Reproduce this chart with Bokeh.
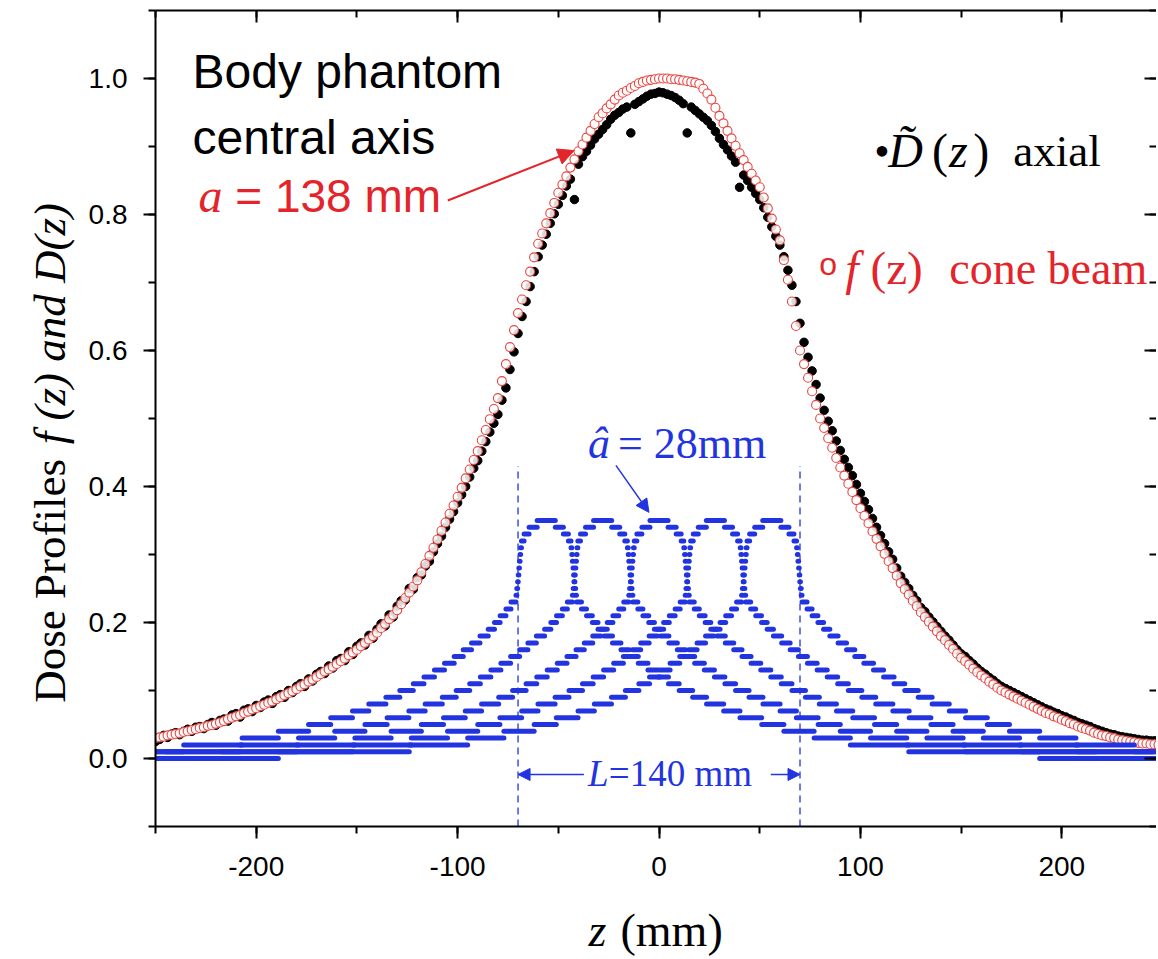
import math
from bokeh.plotting import figure
from bokeh.layouts import row, column
from bokeh.models import (Label, Arrow, NormalHead, LinearAxis, SingleIntervalTicker,
                          PrintfTickFormatter, CustomJSTickFormatter, Range1d, ColumnDataSource)
from bokeh.embed import file_html
from bokeh.resources import INLINE

# ---------------- data ----------------
z_mm = list(range(-250, 251, 2))

# f(z) cone beam (open red circles)
f_cone_left = [
    0.030, 0.031, 0.032, 0.034, 0.035, 0.036, 0.037, 0.039, 0.040, 0.042,
    0.043, 0.045, 0.046, 0.048, 0.049, 0.051, 0.053, 0.055, 0.058, 0.060,
    0.062, 0.064, 0.067, 0.069, 0.072, 0.074, 0.077, 0.079, 0.082, 0.084,
    0.087, 0.090, 0.093, 0.096, 0.099, 0.102, 0.106, 0.109, 0.113, 0.116,
    0.120, 0.124, 0.128, 0.131, 0.135, 0.139, 0.143, 0.147, 0.152, 0.156,
    0.160, 0.165, 0.170, 0.175, 0.180, 0.185, 0.192, 0.198, 0.205, 0.211,
    0.218, 0.227, 0.236, 0.244, 0.253, 0.262, 0.274, 0.286, 0.298, 0.310,
    0.322, 0.335, 0.347, 0.360, 0.372, 0.385, 0.398, 0.412, 0.425, 0.439,
    0.452, 0.468, 0.483, 0.499, 0.514, 0.530, 0.555, 0.580, 0.605, 0.630,
    0.655, 0.675, 0.696, 0.716, 0.737, 0.757, 0.772, 0.787, 0.802, 0.817,
    0.832, 0.844, 0.856, 0.869, 0.881, 0.893, 0.903, 0.913, 0.923, 0.933,
    0.943, 0.949, 0.956, 0.962, 0.969, 0.975, 0.979, 0.982, 0.986, 0.989,
    0.993, 0.995, 0.997, 0.998, 0.999, 1.000,
]
f_cone_right = [
    1.000, 1.000, 0.999, 0.999, 0.998, 0.997, 0.996, 0.995, 0.994, 0.992,
    0.985, 0.978, 0.969, 0.957, 0.945, 0.934, 0.923, 0.912, 0.901, 0.890,
    0.880, 0.870, 0.860, 0.850, 0.840, 0.825, 0.809, 0.794, 0.778, 0.762,
    0.733, 0.704, 0.672, 0.636, 0.600, 0.580, 0.560, 0.540, 0.520, 0.500,
    0.486, 0.471, 0.457, 0.442, 0.428, 0.416, 0.404, 0.392, 0.380, 0.368,
    0.357, 0.346, 0.334, 0.323, 0.312, 0.301, 0.290, 0.280, 0.269, 0.258,
    0.249, 0.241, 0.232, 0.224, 0.215, 0.208, 0.201, 0.194, 0.187, 0.180,
    0.174, 0.167, 0.161, 0.154, 0.148, 0.143, 0.138, 0.132, 0.127, 0.122,
    0.118, 0.113, 0.109, 0.104, 0.100, 0.097, 0.094, 0.091, 0.088, 0.085,
    0.082, 0.079, 0.076, 0.073, 0.070, 0.067, 0.065, 0.062, 0.060, 0.057,
    0.055, 0.052, 0.050, 0.047, 0.045, 0.043, 0.041, 0.038, 0.036, 0.034,
    0.033, 0.031, 0.030, 0.028, 0.027, 0.026, 0.025, 0.024, 0.023, 0.022,
    0.022, 0.021, 0.021, 0.020, 0.020,
]
f_cone = f_cone_left + f_cone_right

# D~(z) axial (filled black dots)
d_axial_left = [
    0.025, 0.028, 0.034, 0.031, 0.036, 0.038, 0.035, 0.040, 0.043, 0.040,
    0.046, 0.047, 0.044, 0.050, 0.053, 0.049, 0.056, 0.058, 0.055, 0.064,
    0.066, 0.061, 0.071, 0.073, 0.069, 0.078, 0.075, 0.083, 0.086, 0.081,
    0.091, 0.094, 0.090, 0.100, 0.097, 0.106, 0.110, 0.106, 0.117, 0.114,
    0.124, 0.128, 0.125, 0.136, 0.133, 0.144, 0.147, 0.144, 0.157, 0.153,
    0.165, 0.170, 0.167, 0.181, 0.177, 0.190, 0.198, 0.195, 0.211, 0.208,
    0.224, 0.232, 0.233, 0.250, 0.249, 0.266, 0.270, 0.283, 0.290, 0.304,
    0.316, 0.327, 0.340, 0.352, 0.363, 0.376, 0.388, 0.400, 0.414, 0.427,
    0.438, 0.452, 0.466, 0.480, 0.493, 0.506, 0.527, 0.545, 0.572, 0.598,
    0.625, 0.650, 0.672, 0.694, 0.716, 0.738, 0.755, 0.771, 0.787, 0.801,
    0.815, 0.828, 0.842, 0.852, 0.822, 0.874, 0.885, 0.893, 0.902, 0.911,
    0.918, 0.925, 0.932, 0.940, 0.946, 0.950, 0.955, 0.958, 0.920, 0.962,
    0.966, 0.970, 0.974, 0.977, 0.978, 0.980,
]
d_axial_right = [
    0.979, 0.977, 0.975, 0.972, 0.968, 0.963, 0.920, 0.958, 0.953, 0.948,
    0.943, 0.938, 0.931, 0.922, 0.912, 0.903, 0.895, 0.886, 0.877, 0.840,
    0.858, 0.850, 0.840, 0.831, 0.822, 0.810, 0.796, 0.782, 0.768, 0.755,
    0.738, 0.718, 0.696, 0.672, 0.640, 0.612, 0.590, 0.570, 0.550, 0.530,
    0.512, 0.496, 0.482, 0.467, 0.453, 0.440, 0.428, 0.416, 0.403, 0.390,
    0.378, 0.366, 0.353, 0.340, 0.328, 0.316, 0.304, 0.293, 0.280, 0.268,
    0.259, 0.250, 0.240, 0.232, 0.222, 0.216, 0.208, 0.201, 0.194, 0.187,
    0.180, 0.174, 0.167, 0.160, 0.154, 0.150, 0.144, 0.139, 0.133, 0.128,
    0.124, 0.119, 0.115, 0.110, 0.106, 0.103, 0.100, 0.097, 0.094, 0.091,
    0.088, 0.085, 0.082, 0.079, 0.076, 0.073, 0.071, 0.068, 0.066, 0.063,
    0.061, 0.058, 0.056, 0.053, 0.051, 0.049, 0.047, 0.044, 0.042, 0.040,
    0.038, 0.036, 0.035, 0.033, 0.032, 0.031, 0.030, 0.029, 0.028, 0.027,
    0.027, 0.026, 0.026, 0.025, 0.025,
]
d_axial = d_axial_left + d_axial_right

# Single-rotation profile (a^ = 28 mm), stair levels vs distance |z - centre|
profile_centres = [-56, -28, 0, 28, 56]
stair_d_from = [0, 4.5, 8.5, 11, 12.3, 12.7, 13.0, 13.3, 13.6, 13.9, 14.2, 14.6,
                15, 17.5, 20, 22.9, 25.7, 28.8, 32.9, 37.1, 41.2, 45.7, 50.5, 55.5,
                60.7, 66, 72.7, 79.6, 88.1, 96.2, 107, 118, 133, 151, 180, 245]
stair_d_to = stair_d_from[1:] + [310]
stair_level = [0.35, 0.34, 0.33, 0.32, 0.31, 0.30, 0.29, 0.28, 0.27, 0.26, 0.25, 0.24,
               0.23, 0.22, 0.21, 0.20, 0.19, 0.18, 0.17, 0.16, 0.15, 0.14, 0.13, 0.12,
               0.11, 0.10, 0.09, 0.08, 0.07, 0.06, 0.05, 0.04, 0.03, 0.02, 0.01, 0.00]
scan_length_L = 140
dashed_top = 0.43

x_ticks_interval = 100
y_ticks_interval = 0.2

# ---------------- layout sizes ----------------
LEFT_W = 75           # side panel holding the y title
MAIN_W = 1081
MAIN_H = 896
BOTTOM_H = 62         # panel holding the x title
PX_PER_UNIT_Y = 680.0 # frame height / y span
BASE_SHIFT = 0.32     # Label baseline correction, in em

RED = "#e3242b"
RED_C = "#e8453f"
BLUE = "#2233e0"

p = figure(width=MAIN_W, height=MAIN_H, x_range=Range1d(-250, 247), y_range=Range1d(-0.1, 1.1),
           output_backend="svg", toolbar_location=None,
           min_border_left=80, min_border_right=0, min_border_top=10, min_border_bottom=70)
p.grid.visible = False
p.outline_line_color = None
p.background_fill_color = "white"
p.border_fill_color = "white"

def style_axis(ax, inward=False):
    ax.axis_line_width = 2
    ax.axis_line_color = "black"
    ax.major_tick_line_width = 2
    ax.minor_tick_line_width = 2
    ax.major_tick_line_color = "black"
    ax.minor_tick_line_color = "black"
    if inward:
        ax.major_tick_in, ax.major_tick_out = 12, 0
        ax.minor_tick_in, ax.minor_tick_out = 7, 0
        ax.formatter = CustomJSTickFormatter(code="return ''")
        ax.major_label_text_font_size = "1px"
        ax.major_label_standoff = 0
    else:
        ax.major_tick_in, ax.major_tick_out = 0, 12
        ax.minor_tick_in, ax.minor_tick_out = 0, 7
        ax.major_label_text_font = "Liberation Sans"
        ax.major_label_text_font_size = "28px"
        ax.major_label_text_color = "black"

xb = p.xaxis[0]
xb.ticker = SingleIntervalTicker(interval=x_ticks_interval, num_minor_ticks=2)
xb.formatter = PrintfTickFormatter(format="%d")
style_axis(xb)
xb.major_label_standoff = 18

yl = p.yaxis[0]
yl.ticker = SingleIntervalTicker(interval=y_ticks_interval, num_minor_ticks=2)
yl.formatter = PrintfTickFormatter(format="%.1f")
style_axis(yl)
yl.major_label_standoff = 16

xt = LinearAxis(ticker=SingleIntervalTicker(interval=x_ticks_interval, num_minor_ticks=2))
style_axis(xt, inward=True)
p.add_layout(xt, "above")
yr = LinearAxis(ticker=SingleIntervalTicker(interval=y_ticks_interval, num_minor_ticks=2))
style_axis(yr, inward=True)
yr.axis_line_color = None
p.add_layout(yr, "right")

# ---------------- glyphs ----------------
src = ColumnDataSource(dict(z=z_mm, f=f_cone, d=d_axial))
p.scatter("z", "d", source=src, size=8.5, marker="circle", fill_color="black", line_color="black")
p.scatter("z", "f", source=src, size=9, marker="circle", fill_color="white", fill_alpha=0.85,
          line_color=RED_C, line_width=1.1)

x0s, x1s, ys = [], [], []
for c in profile_centres:
    for lo, hi, lev in zip(stair_d_from, stair_d_to, stair_level):
        x0s += [c - hi, c + lo]
        x1s += [c - lo, c + hi]
        ys += [lev, lev]
p.segment(x0=x0s, y0=ys, x1=x1s, y1=ys, line_color=BLUE, line_width=5, line_cap="round")

half = scan_length_L / 2
p.segment(x0=[-half, half], y0=[-0.1, -0.1], x1=[-half, half], y1=[dashed_top, dashed_top],
          line_color=BLUE, line_width=1.3, line_dash="7 5")

# ---------------- annotations ----------------
def lab(fig, x, y, text, font="Liberation Serif", size=44, style="normal", color="black",
        angle=0.0, units_per_px=1.0):
    # (x, y) is the wanted baseline start; compensate the renderer's baseline offset
    if angle:
        x = x - BASE_SHIFT * size
    else:
        y = y + BASE_SHIFT * size * units_per_px
    fig.add_layout(Label(x=x, y=y, text=text, text_font=font, text_font_size=f"{size}px",
                         text_font_style=style, text_color=color, angle=angle,
                         text_align="left", text_baseline="alphabetic"))

def mlab(x, y, text, **kw):
    lab(p, x, y, text, units_per_px=1.0 / PX_PER_UNIT_Y, **kw)

mlab(-231.6, 0.987, "Body phantom", font="Liberation Sans", size=48)
mlab(-231.6, 0.890, "central axis", font="Liberation Sans", size=48)
mlab(-228.6, 0.806, "a", size=48, style="italic", color=RED)
mlab(-210.4, 0.806, "= 138 mm", font="Liberation Sans", size=46, color=RED)
p.add_layout(Arrow(end=NormalHead(size=16, fill_color=RED, line_color=RED),
                   x_start=-104.9, y_start=0.8206, x_end=-42.2, y_end=0.894,
                   line_color=RED, line_width=2))

# legend texts
mlab(106.9, 0.872, "\u2022", size=44)
mlab(113.8, 0.872, "D\u0303", size=48, style="italic")
mlab(135.5, 0.872, "(", size=48)
mlab(144.0, 0.872, "z", size=48, style="italic")
mlab(156.0, 0.872, ")", size=48)
mlab(175.9, 0.872, "axial", size=45)

mlab(79.5, 0.712, "o", font="Liberation Sans", size=32, color=RED)
mlab(92.5, 0.6985, "f", size=48, style="italic", color=RED)
mlab(105.0, 0.6985, "(z)", size=47, color=RED)
mlab(144.1, 0.6985, "cone beam", size=46, color=RED)

# a^ annotation
mlab(-35.3, 0.443, "\u00e2", size=44, style="italic", color=BLUE)
mlab(-20.4, 0.443, "= 28mm", size=44, color=BLUE)
p.add_layout(Arrow(end=NormalHead(size=13, fill_color=BLUE, line_color=BLUE),
                   x_start=-21.4, y_start=0.431, x_end=-5.0, y_end=0.362,
                   line_color=BLUE, line_width=1.5))

# L annotation
mlab(-35.3, -0.0397, "L", size=37, style="italic", color=BLUE)
mlab(-24.9, -0.0397, "=140 mm", size=37, color=BLUE)
p.add_layout(Arrow(end=NormalHead(size=12, fill_color=BLUE, line_color=BLUE),
                   x_start=-37.3, y_start=-0.0235, x_end=-half, y_end=-0.0235,
                   line_color=BLUE, line_width=1.5))
p.add_layout(Arrow(end=NormalHead(size=12, fill_color=BLUE, line_color=BLUE),
                   x_start=55.5, y_start=-0.0235, x_end=half, y_end=-0.0235,
                   line_color=BLUE, line_width=1.5))

# ---------------- axis titles in side panels (mixed italic / roman) ----------------
def blank_panel(w, h, y_range=None):
    f = figure(width=w, height=h, x_range=Range1d(0, w),
               y_range=y_range if y_range is not None else Range1d(0, h),
               x_axis_type=None, y_axis_type=None, output_backend="svg", toolbar_location=None,
               min_border=0)
    f.grid.visible = False
    f.outline_line_color = None
    f.background_fill_color = "white"
    f.border_fill_color = "white"
    return f

# the side panel's frame is aligned with the main frame, so it shares its y scale
ytitle = blank_panel(LEFT_W, MAIN_H, y_range=p.y_range)
lab(ytitle, 64, 0.082, "Dose Profiles", size=45, angle=math.pi / 2)
lab(ytitle, 64, 0.462, "f (z) and D(z)", size=45, style="italic", angle=math.pi / 2)

xtitle = blank_panel(MAIN_W, BOTTOM_H)
lab(xtitle, 588 - LEFT_W, 13, "z", size=46, style="italic")
lab(xtitle, 620 - LEFT_W, 13, "(mm)", size=46)

filler = blank_panel(LEFT_W, BOTTOM_H)

layout = column(row(ytitle, p), row(filler, xtitle))
open("out.html", "w").write(file_html(layout, INLINE))
